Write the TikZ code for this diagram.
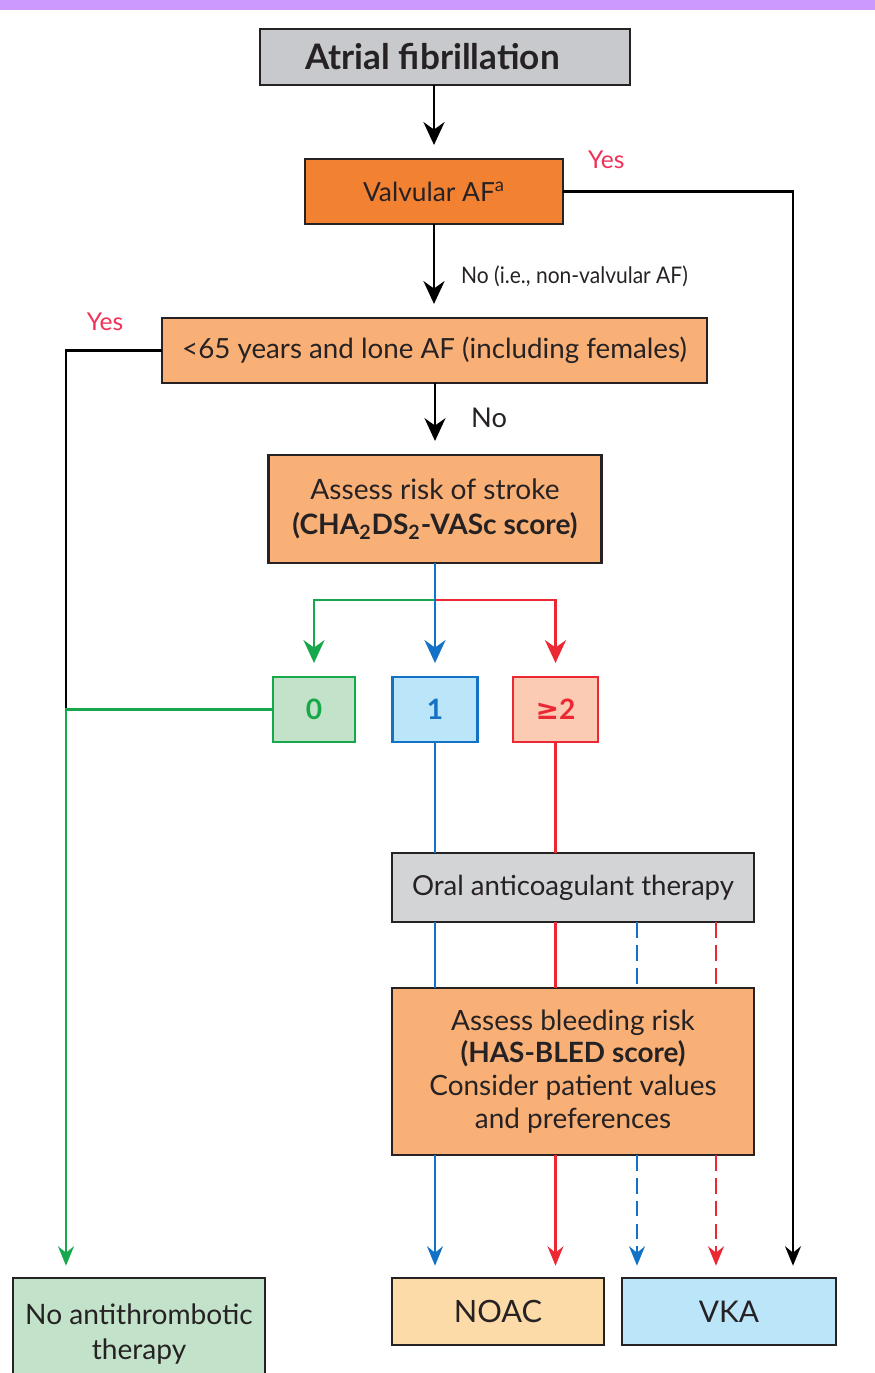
\documentclass[tikz,border=0pt]{standalone}
\usepackage{fontspec}
\setmainfont{Lato}
\newfontfamily\symfont{DejaVu Sans}
\usetikzlibrary{arrows.meta}

\definecolor{barpurple}{RGB}{204,153,255}
\definecolor{topgray}{RGB}{200,201,204}
\definecolor{midgray}{RGB}{211,212,214}
\definecolor{darkorange}{RGB}{242,129,50}
\definecolor{lightorange}{RGB}{249,176,118}
\definecolor{paleorange}{RGB}{253,219,168}
\definecolor{greenfill}{RGB}{194,227,201}
\definecolor{greenline}{RGB}{24,168,76}
\definecolor{bluefill}{RGB}{187,229,249}
\definecolor{blueline}{RGB}{20,114,198}
\definecolor{redfill}{RGB}{251,203,180}
\definecolor{redline}{RGB}{236,40,52}
\definecolor{yesred}{RGB}{240,50,88}
\definecolor{inkdark}{RGB}{38,34,36}

\begin{document}
\begin{tikzpicture}[x=0.02cm, y=-0.02cm,
    box/.style={draw=inkdark, line width=1.3pt, inner sep=0pt, outer sep=0pt, align=center, text=inkdark},
    conn/.style={line width=1.4pt},
    flow/.style={conn, -{Stealth[length=13pt, width=12pt]}, shorten >=8pt},
    smallflow/.style={conn, -{Stealth[length=11pt, width=9pt]}, shorten >=7pt},
    yestext/.style={text=yesred, font=\fontsize{14}{16}\selectfont}]
    \useasboundingbox (0,0) rectangle (875,1373);

    % Header bar
    \fill[barpurple] (0,0) rectangle (875,10);

    % Decision boxes
    \node[box, fill=topgray, minimum width=7.4cm, minimum height=1.12cm, font=\fontsize{20}{22}\selectfont\bfseries] (af) at (445,57) {Atrial fibrillation\hspace{0.5cm}};
    \node[box, fill=darkorange, minimum width=5.16cm, minimum height=1.3cm, font=\fontsize{15}{18}\selectfont] (valv) at (434,191.5) {Valvular AF\textsuperscript{a}};
    \node[box, fill=lightorange, minimum width=10.9cm, minimum height=1.3cm, font=\fontsize{15.8}{18}\selectfont] (lone) at (434.5,350.5) {<65 years and lone AF (including females)};
    \node[box, fill=lightorange, minimum width=6.66cm, minimum height=2.16cm, font=\fontsize{16}{20}\selectfont] (stroke) at (435,509) {Assess risk of stroke\\ \textbf{(CHA\textsubscript{2}DS\textsubscript{2}-VASc score)}};

    % Score boxes
    \node[box, fill=greenfill, draw=greenline, text=greenline, minimum width=1.64cm, minimum height=1.3cm, font=\fontsize{16}{18}\selectfont\bfseries] (s0) at (314,709.5) {0};
    \node[box, fill=bluefill, draw=blueline, text=blueline, minimum width=1.7cm, minimum height=1.3cm, font=\fontsize{16}{18}\selectfont\bfseries] (s1) at (435,709.5) {1};
    \node[box, fill=redfill, draw=redline, text=redline, minimum width=1.7cm, minimum height=1.3cm, font=\fontsize{16}{18}\selectfont\bfseries] (s2) at (555.5,709.5) {{\symfont ≥}2};

    % Therapy boxes
    \node[box, fill=midgray, minimum width=7.24cm, minimum height=1.38cm, font=\fontsize{15.7}{18}\selectfont] (oac) at (573,887.5) {Oral anticoagulant therapy};
    \node[box, fill=lightorange, minimum width=7.24cm, minimum height=3.34cm, font=\fontsize{15.9}{18.7}\selectfont] (bleed) at (573,1071.5) {Assess bleeding risk\\ \textbf{(HAS-BLED score)}\\ Consider patient values\\ and preferences};
    \node[box, fill=greenfill, minimum width=5.04cm, minimum height=2.24cm, font=\fontsize{16}{19.8}\selectfont] (noat) at (139,1334) {No antithrombotic\\ therapy};
    \node[box, fill=paleorange, minimum width=4.24cm, minimum height=1.34cm, font=\fontsize{17.5}{20}\selectfont] (noac) at (498,1311.5) {NOAC};
    \node[box, fill=bluefill, minimum width=4.28cm, minimum height=1.34cm, font=\fontsize{17}{20}\selectfont] (vka) at (729,1311.5) {VKA};

    % Branch labels
    \node[yestext, anchor=west] (yes1) at (582,160) {Yes};
    \node[yestext] (yes2) at (105,322) {Yes};
    \node[anchor=west, text=inkdark, font=\fontsize{13}{15}\selectfont] (nolab1) at (455,276) {\scalebox{0.92}[1]{No (i.e., non-valvular AF)}};
    \node[anchor=west, text=inkdark, font=\fontsize{15.5}{18}\selectfont] (nolab2) at (465,418) {No};

    % Helper columns
    \coordinate (lx) at (66,0);
    \coordinate (bx) at (637,0);
    \coordinate (rx) at (716,0);
    \coordinate (kx) at (793,0);
    \coordinate (fork) at (435,600);

    % Main flow
    \draw[flow] (af.south -| valv.north) -- (valv.north);
    \draw[flow] (valv.south) -- (lone.north -| valv.south);
    \draw[flow] (lone.south -| stroke.north) -- (stroke.north);
    \draw[smallflow] (valv.east) -- (valv.east -| kx) -- (vka.north -| kx);
    \draw[conn] (lone.west) -- (lone.west -| lx) -- (s0.west -| lx);

    % Stroke score branches
    \draw[flow, greenline] (fork) -- (fork -| s0) -- (s0.north);
    \draw[flow, redline] (fork) -- (fork -| s2) -- (s2.north);
    \draw[flow, blueline] (stroke.south) -- (s1.north);
    \draw[smallflow, greenline] (s0.west) -- (s0.west -| lx) -- (noat.north -| lx);

    % Into anticoagulation
    \draw[conn, blueline] (s1.south) -- (oac.north -| s1);
    \draw[conn, redline] (s2.south) -- (oac.north -| s2);
    \draw[conn, blueline] (oac.south -| s1) -- (bleed.north -| s1);
    \draw[conn, redline] (oac.south -| s2) -- (bleed.north -| s2);
    \draw[conn, blueline, dash pattern=on 9pt off 4pt] (oac.south -| bx) -- (bleed.north -| bx);
    \draw[conn, redline, dash pattern=on 9pt off 4pt] (oac.south -| rx) -- (bleed.north -| rx);

    % Final choices
    \draw[smallflow, blueline] (bleed.south -| s1) -- (noac.north -| s1);
    \draw[smallflow, redline] (bleed.south -| s2) -- (noac.north -| s2);
    \draw[smallflow, blueline, dash pattern=on 9pt off 4pt] (bleed.south -| bx) -- (vka.north -| bx);
    \draw[smallflow, redline, dash pattern=on 9pt off 4pt] (bleed.south -| rx) -- (vka.north -| rx);
\end{tikzpicture}
\end{document}
